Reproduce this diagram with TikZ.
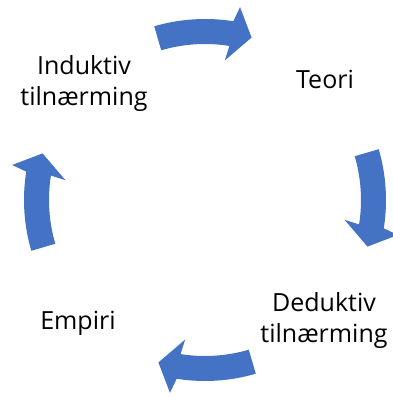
\documentclass[tikz,border=0pt]{standalone}
\usepackage{fontspec}
\setmainfont{Open Sans}
\usetikzlibrary{calc}
\definecolor{cyclblue}{HTML}{4472C4}
\begin{document}
\begin{tikzpicture}[x=1pt,y=1pt,
  lbl/.style={align=center,inner sep=0pt,text=black,font=\fontsize{25}{31}\selectfont},
  cycarrow/.style={fill=cyclblue,draw=none}]
\useasboundingbox (0,0) rectangle (393,397);
% centre of the cycle
\coordinate (c) at (205,197);
% curved block arrow centred at angle #1, running clockwise
\newcommand\cycarrowat[1]{%
  \fill[cycarrow]
    ($(c)+(#1+16.3:181)$)
    arc[start angle=#1+16.3, end angle=#1-9, radius=181]
    -- ($(c)+(#1-10.3:196)$)
    -- ($(c)+(#1-16:169)$)
    -- ($(c)+(#1-8.1:141)$)
    -- ($(c)+(#1-9:156)$)
    arc[start angle=#1-9, end angle=#1+16.3, radius=156]
    -- cycle;}
\cycarrowat{90}
\cycarrowat{0}
\cycarrowat{-90}
\cycarrowat{180}
\node[lbl] (ind) at (84,313) {Induktiv\\tilnærming};
\node[lbl] (teo) at (325,318) {Teori};
\node[lbl] (ded) at (324,76) {Deduktiv\\tilnærming};
\node[lbl] (emp) at (78,74) {Empiri};
\end{tikzpicture}
\end{document}
